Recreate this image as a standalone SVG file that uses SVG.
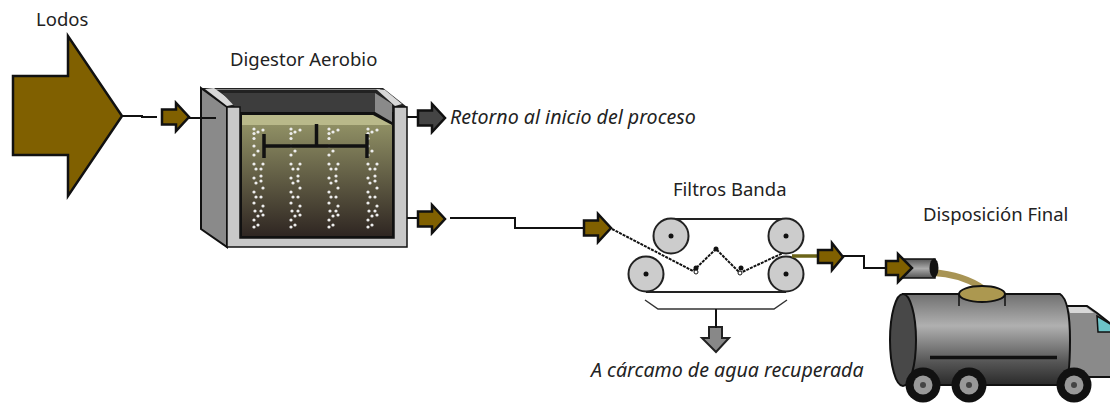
<svg xmlns="http://www.w3.org/2000/svg" width="1110" height="404" viewBox="0 0 1110 404">
<style>
text{font-family:"Noto Sans","Liberation Sans",sans-serif;font-size:18.500px;fill:#222}
text.i{font-style:italic;font-size:19.600px}
.k{fill:none;stroke:#111;stroke-width:2}
.b{fill:#806000;stroke:#111;stroke-width:2.500;stroke-linejoin:miter}
.d{fill:#444;stroke:#111;stroke-width:2.500}
.r{fill:#ccc;stroke:#222;stroke-width:2}
.w{fill:#111}
.bub{fill:#eee}
</style>
<defs>
<path id="ar" d="M0 6.500H14V0L27 14L14 28V21.500H0Z"/>
<linearGradient id="liq" x1="0" y1="0" x2="0" y2="1"><stop offset="0" stop-color="#8f8f64"/><stop offset="1" stop-color="#2f2622"/></linearGradient>
<linearGradient id="tank" x1="0" y1="0" x2="0" y2="1"><stop offset="0" stop-color="#707070"/><stop offset=".35" stop-color="#b0b0b0"/><stop offset=".75" stop-color="#555"/><stop offset="1" stop-color="#2a2a2a"/></linearGradient>
<linearGradient id="pipe" x1="0" y1="0" x2="0" y2="1"><stop offset="0" stop-color="#555"/><stop offset=".5" stop-color="#aaa"/><stop offset="1" stop-color="#555"/></linearGradient>
<g id="bubbles" class="bub">
<circle cx="-4" cy="129" r="1.600"/><circle cx="0" cy="132" r="1.600"/><circle cx="5" cy="130" r="1.600"/><circle cx="-4" cy="133.500" r="1.600"/><circle cx="-4" cy="138.500" r="1.600"/><circle cx="-4" cy="146" r="1.600"/><circle cx="0" cy="151" r="1.600"/><circle cx="-4" cy="155" r="1.600"/><circle cx="-4" cy="164" r="1.600"/><circle cx="5" cy="164" r="1.600"/><circle cx="-2" cy="169" r="1.600"/><circle cx="3" cy="169" r="1.600"/><circle cx="3" cy="176" r="1.600"/><circle cx="-4" cy="178" r="1.600"/><circle cx="3" cy="181" r="1.600"/><circle cx="-2" cy="183" r="1.600"/><circle cx="5" cy="188" r="1.600"/><circle cx="-4" cy="192" r="1.600"/><circle cx="-2" cy="197" r="1.600"/><circle cx="3" cy="197" r="1.600"/><circle cx="-4" cy="203" r="1.600"/><circle cx="5" cy="206" r="1.600"/><circle cx="-3" cy="211" r="1.600"/><circle cx="3" cy="211" r="1.600"/><circle cx="5" cy="215" r="1.600"/><circle cx="0" cy="216" r="1.600"/><circle cx="-4" cy="220" r="1.600"/><circle cx="0" cy="225" r="1.600"/><circle cx="-4" cy="227" r="1.600"/>
</g>
</defs>
<g id="lodos">
<text x="36" y="26">Lodos</text>
<path class="b" d="M13 76H68V36L122 116L68 196V155H13Z"/>
</g>
<g id="digestor">
<text x="230" y="66">Digestor Aerobio</text>
<path fill="#222" d="M201 88H383L407 107V247H227L201 229Z"/>
<path fill="none" stroke="#888" stroke-width="1" d="M214 89.500H380"/>
<path fill="#8a8a8a" stroke="#111" stroke-width="2" d="M201 88L227 107V247L201 229Z"/>
<path fill="#d8d8d8" d="M205 89L214 88L236 104L227 106Z"/>
<path fill="#d8d8d8" d="M376 89L385 90L402 104L395 106Z"/>
<path fill="#3d3d3d" d="M222 93H375V112H240Z"/>
<path fill="#c8c8c8" stroke="#111" stroke-width="1.500" d="M227 107H240V238H394V107H407V247H227Z"/>
<rect x="240" y="112" width="154" height="126" fill="#111"/>
<path fill="url(#liq)" d="M242 125H392V236H242Z"/>
<path fill="#b9b98a" d="M242 115H373L392 125H242Z"/>
<path fill="#8a8a8a" d="M375 93L392 104V122L375 112Z"/>
<use href="#bubbles" x="258"/>
<use href="#bubbles" x="295"/>
<use href="#bubbles" x="333"/>
<use href="#bubbles" x="372"/>
<path fill="none" stroke="#111" stroke-width="3.500" d="M264 134V158M264 146H367M367 134V158M316.500 124V146"/>
</g>
<text class="i" x="450" y="124">Retorno al inicio del proceso</text>
<g id="filtros">
<text x="673" y="196">Filtros Banda</text>
<path d="M671 219H786M646 292H786" fill="none" stroke="#222" stroke-width="2"/>
<circle class="r" cx="671" cy="236" r="17.500"/><circle class="r" cx="786" cy="236" r="17.500"/><circle class="r" cx="646" cy="274" r="17.500"/><circle class="r" cx="786" cy="274" r="17.500"/>
<circle class="w" cx="671" cy="236" r="2.500"/><circle class="w" cx="786" cy="236" r="2.500"/><circle class="w" cx="646" cy="274" r="2.500"/><circle class="w" cx="786" cy="274" r="2.500"/>
<path d="M645 300L658 309H774L787 300" fill="none" stroke="#333" stroke-width="1.500"/>
<path fill="#888" stroke="#222" stroke-width="2" d="M709 327H722V338H729L716 352L702 338H709Z"/>
<text class="i" x="591" y="377">A cárcamo de agua recuperada</text>
</g>
<g id="disposicion">
<text x="923" y="221">Disposición Final</text>
<path d="M933 269Q965 272 985 286L978 289Q958 277 933 276Z" fill="#a89454"/>
<path fill="url(#pipe)" stroke="#111" stroke-width="1.500" d="M900 259H935V278H900Z"/>
<ellipse cx="934" cy="268" rx="4.500" ry="9.500" fill="#111"/>
<path fill="#8a8a8a" stroke="#111" stroke-width="2" d="M1066 306H1087L1097 313L1112 325V377H1068Z"/>
<path fill="#d8d8d8" d="M1068 307H1086L1094 313H1070Z"/>
<path fill="#6cc4c8" stroke="#111" stroke-width="1.500" d="M1097 316L1112 325V332H1098Z"/>
<path fill="url(#tank)" stroke="#111" stroke-width="2" d="M903 294H1060Q1070 300 1070 340Q1070 382 1064 385H903Z"/>
<ellipse cx="903" cy="340" rx="13" ry="46" fill="#484848" stroke="#111" stroke-width="2"/>
<path d="M930 357.500H1057" stroke="#111" stroke-width="3.500"/>
<path d="M959 295V306M1005 295V306" stroke="#111" stroke-width="1.500"/>
<ellipse cx="982" cy="294" rx="23" ry="8" fill="#ac9850" stroke="#111" stroke-width="2"/>
<circle class="w" cx="923" cy="385" r="17.500"/><circle cx="923" cy="385" r="9.500" fill="#999"/><circle cx="923" cy="385" r="3" fill="#444"/>
<circle class="w" cx="969" cy="385" r="17.500"/><circle cx="969" cy="385" r="9.500" fill="#999"/><circle cx="969" cy="385" r="3" fill="#444"/>
<circle class="w" cx="1074" cy="385" r="17.500"/><circle cx="1074" cy="385" r="9.500" fill="#999"/><circle cx="1074" cy="385" r="3" fill="#444"/>
</g>
<g id="connectors">
<path class="k" d="M123 116H142V117H157"/>
<path class="k" d="M189 118H216"/>
<path class="k" d="M407 117H418"/>
<path class="k" d="M407 218H418"/>
<path class="k" d="M450 218H515V228H584"/>
<path class="k" d="M612 229L693 271L716 249L740 273L783 253" stroke-width="1.500" stroke-dasharray="3 1"/>
<path d="M792 256H819" fill="none" stroke="#6b6418" stroke-width="3.500"/>
<path class="k" d="M843 256H864V268H887"/>
<path class="k" d="M716 309V328"/>
</g>
<g id="belt-rollers">
<circle class="w" cx="696" cy="268" r="2.500"/><circle class="w" cx="716" cy="249" r="2.500"/><circle class="w" cx="741" cy="268" r="2.500"/>
<circle cx="696" cy="272" r="2" fill="#fff" stroke="#111"/><circle cx="740" cy="273" r="2" fill="#fff" stroke="#111"/>
</g>
<g id="flow-arrows">
<use href="#ar" class="b" x="162" y="103"/>
<use href="#ar" class="d" x="418" y="104"/>
<use href="#ar" class="b" x="418" y="205"/>
<use href="#ar" class="b" x="584" y="214"/>
<path class="b" d="M818 250H832V243L843 257L832 270V263H818Z"/>
<path class="b" d="M886 261H898V254L912 268L898 282V275H886Z"/>
</g>
</svg>
